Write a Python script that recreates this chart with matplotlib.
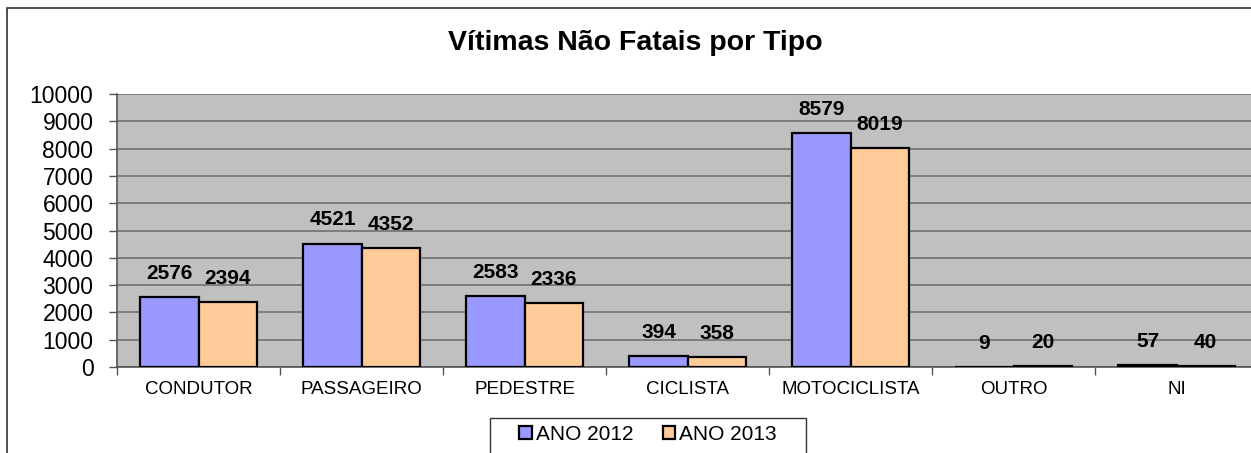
import numpy as np
import matplotlib.pyplot as plt
from matplotlib.patches import Rectangle

plt.rcParams['font.family'] = ['Liberation Sans', 'DejaVu Sans']

tipos = ['CONDUTOR', 'PASSAGEIRO', 'PEDESTRE', 'CICLISTA', 'MOTOCICLISTA', 'OUTRO', 'NI']
ano_2012 = [2576, 4521, 2583, 394, 8579, 9, 57]
ano_2013 = [2394, 4352, 2336, 358, 8019, 20, 40]

fig = plt.figure(figsize=(12.51, 4.53), dpi=100)

# moldura do grafico
fig.patches.append(Rectangle((7 / 1251, -0.1), 1.1, 1 - 8 / 453 + 0.1,
                             transform=fig.transFigure, fill=False,
                             edgecolor='#333333', linewidth=1.2, zorder=0))

ax = fig.add_axes([117 / 1251, 1 - 367 / 453, 1141 / 1251, 273 / 453])
ax.set_facecolor('#C0C0C0')

x = np.arange(len(tipos))
w = 0.356
b1 = ax.bar(x - w / 2, ano_2012, w, color='#9999FF', edgecolor='black', linewidth=1.6,
            label='ANO 2012', zorder=3)
b2 = ax.bar(x + w / 2, ano_2013, w, color='#FFCC99', edgecolor='black', linewidth=1.6,
            label='ANO 2013', zorder=3)

for barras in (b1, b2):
    for r in barras:
        v = r.get_height()
        ax.annotate(str(v), (r.get_x() + r.get_width() / 2, v),
                    xytext=(0, 17), textcoords='offset points',
                    ha='center', va='center', fontsize=15, fontweight='bold', zorder=4)

ax.set_xlim(-0.5, len(tipos) - 0.5)
ax.set_ylim(0, 10000)
ax.set_yticks(range(0, 10001, 1000))
ax.yaxis.grid(True, color='#6a6a6a', linewidth=1.1, zorder=1)
ax.tick_params(axis='y', labelsize=16.5, length=6, width=1, color='#555555', pad=11)

ax.set_xticks(x)
ax.set_xticklabels(tipos, fontsize=13.5)
ax.tick_params(axis='x', length=0, pad=10)
ax.set_xticks(np.arange(-0.5, len(tipos)), minor=True)
ax.tick_params(axis='x', which='minor', length=6, width=1, color='#555555')

for s in ('top', 'right'):
    ax.spines[s].set_visible(False)
for s in ('left', 'bottom'):
    ax.spines[s].set_color('#555555')
    ax.spines[s].set_linewidth(1.2)

fig.text(635 / 1251, 1 - 43 / 453, 'Vítimas Não Fatais por Tipo', ha='center', va='center',
         fontsize=20.5, fontweight='bold')

# legenda com caixa propria
fig.patches.append(Rectangle((490 / 1251, -0.05), 316 / 1251, 1 - 418 / 453 + 0.05,
                             transform=fig.transFigure, fill=True, facecolor='white',
                             edgecolor='#333333', linewidth=1.0, zorder=1))
leg = fig.legend(loc='center', bbox_to_anchor=(648 / 1251, 1 - 434 / 453), ncol=2,
                 fontsize=15, frameon=False,
                 handlelength=0.6, handleheight=0.6, handletextpad=0.2, columnspacing=1.4)
leg.set_zorder(5)

fig.savefig('out.png', dpi=100)
